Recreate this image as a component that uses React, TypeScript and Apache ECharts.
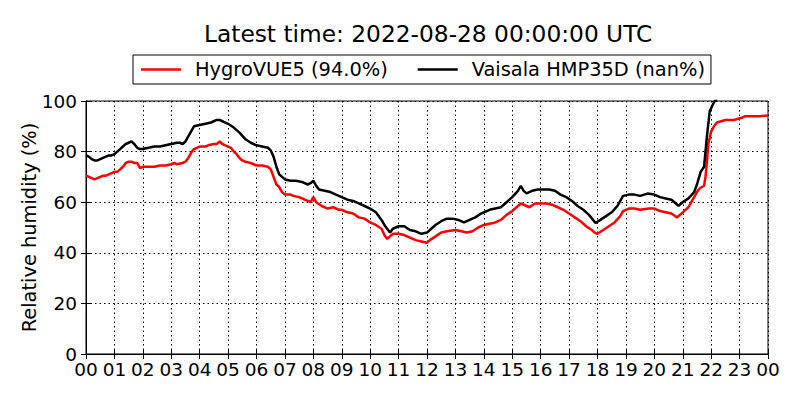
import React, { useEffect, useRef } from "react";
import * as echarts from "echarts";

const titleText = "Latest time: 2022-08-28 00:00:00 UTC";
const redName = "HygroVUE5 (94.0%)";
const blackName = "Vaisala HMP35D (nan%)";
const yTitle = "Relative humidity (%)";

const redTimes = [
  0.0, 0.1, 0.2, 0.3, 0.4, 0.5, 0.6, 0.7, 0.8, 0.9, 1.0, 1.1, 1.2, 1.3, 1.4, 1.5, 1.6, 1.7, 1.8, 1.9,
  2.0, 2.2, 2.4, 2.6, 2.8, 3.0, 3.1, 3.2, 3.4, 3.5, 3.6, 3.7, 3.8, 4.0, 4.2, 4.3, 4.5, 4.6, 4.7, 4.8,
  4.9, 5.0, 5.1, 5.2, 5.3, 5.4, 5.5, 5.6, 5.8, 6.0, 6.2, 6.4, 6.5, 6.6, 6.7, 6.8, 6.9, 7.0, 7.2, 7.3,
  7.5, 7.6, 7.8, 7.9, 8.0, 8.1, 8.3, 8.5, 8.7, 8.9, 9.0, 9.2, 9.4, 9.6, 9.8, 10.0, 10.2, 10.4, 10.5, 10.6,
  10.7, 10.8, 11.0, 11.2, 11.4, 11.6, 11.8, 12.0, 12.1, 12.3, 12.5, 12.7, 13.0, 13.2, 13.4, 13.6, 13.8, 14.0, 14.2, 14.4,
  14.6, 14.8, 15.0, 15.2, 15.3, 15.5, 15.6, 15.8, 16.0, 16.2, 16.4, 16.6, 16.8, 17.0, 17.2, 17.4, 17.6, 17.8, 17.9, 18.0,
  18.2, 18.4, 18.6, 18.8, 18.9, 19.1, 19.3, 19.5, 19.8, 20.0, 20.2, 20.4, 20.6, 20.8, 21.0, 21.2, 21.3, 21.5, 21.6, 21.75,
  21.8, 21.85, 21.9, 22.0, 22.1, 22.2, 22.5, 22.8, 23.1, 23.2, 23.5, 23.7, 24.0,
];
const redRH = [
  70.5, 70, 69.5, 69, 69.5, 70, 70.5, 70.5, 71, 71.5, 72, 72, 73, 74, 75.5, 76, 76, 75.5, 75.5, 73.5,
  74, 74, 74, 74.5, 74.5, 75, 75.5, 75, 75.5, 76, 77.5, 79.5, 81, 82, 82, 82.5, 83, 83, 84, 83,
  82.5, 82, 81.5, 80, 79, 77.5, 76.5, 76, 75.5, 74.5, 74.5, 74, 73, 70, 67, 66, 64, 63, 63, 62.5,
  62, 61.5, 60.5, 60, 62, 60, 58.5, 57.5, 58, 57, 57, 56, 55.5, 54, 53.5, 52, 51, 49.5, 47, 45.5,
  46.5, 47.5, 47.5, 47, 46, 45, 44.5, 44, 45, 46.5, 48, 48.5, 49, 48.5, 48, 48.5, 50, 51, 51.5, 52,
  53, 55, 56.5, 58.5, 59.5, 58.5, 58, 59.5, 59.5, 59.5, 59, 58, 57, 55.5, 54, 52.5, 50.5, 49, 48, 47.5,
  49, 50.5, 52, 54.5, 56.5, 57.5, 57.5, 57, 57.5, 57.5, 56.5, 56, 55.5, 54, 56, 58, 60, 64, 65.5, 66.5,
  70, 76, 83, 88, 90, 91.5, 92.5, 92.5, 93.5, 94, 94, 94, 94.3,
];

const blackTimes = [
  0.0, 0.1, 0.2, 0.3, 0.4, 0.5, 0.6, 0.7, 0.8, 0.9, 1.0, 1.1, 1.2, 1.3, 1.4, 1.5, 1.6, 1.7, 1.8, 1.9,
  2.0, 2.2, 2.4, 2.6, 2.8, 3.0, 3.2, 3.3, 3.4, 3.5, 3.6, 3.7, 3.8, 4.0, 4.2, 4.4, 4.6, 4.7, 4.8, 5.0,
  5.2, 5.4, 5.6, 5.8, 6.0, 6.2, 6.4, 6.5, 6.6, 6.7, 6.8, 6.9, 7.0, 7.2, 7.4, 7.6, 7.8, 7.9, 8.0, 8.1,
  8.2, 8.4, 8.6, 8.8, 9.0, 9.2, 9.4, 9.6, 9.8, 10.0, 10.2, 10.4, 10.5, 10.6, 10.7, 10.8, 11.0, 11.2, 11.4, 11.6,
  11.8, 12.0, 12.1, 12.3, 12.5, 12.7, 12.9, 13.1, 13.3, 13.5, 13.7, 13.9, 14.0, 14.2, 14.4, 14.6, 14.8, 15.0, 15.2, 15.3,
  15.4, 15.5, 15.7, 15.9, 16.1, 16.3, 16.5, 16.7, 16.9, 17.1, 17.3, 17.5, 17.7, 17.93, 18.1, 18.3, 18.5, 18.7, 18.9, 19.1,
  19.3, 19.5, 19.76, 20.0, 20.2, 20.4, 20.6, 20.85, 21.0, 21.2, 21.4, 21.5, 21.63, 21.75, 21.85, 21.95, 22.1, 22.2,
];
const blackRH = [
  78.5, 78, 77, 76.5, 76.5, 77, 77.5, 78, 78.5, 78.5, 79, 80, 81, 82, 83, 83.5, 84, 83, 81.5, 81,
  81, 81.5, 82, 82, 82.5, 83, 83.5, 83.5, 83, 84, 86, 88, 90, 90.5, 91, 91.5, 92.5, 92.5, 92, 91,
  89.5, 87.5, 85, 83.5, 82.5, 82, 81.5, 80.5, 78, 74, 71, 70, 69, 68.5, 68.5, 68, 67, 67.5, 68.5, 66.5,
  65, 64.5, 64, 63, 62, 61, 60.5, 59.5, 58.5, 57.5, 56, 53, 51, 49.5, 48, 49.5, 50.5, 50.5, 49, 48.5,
  47.5, 48, 49, 51, 52.5, 53.5, 53.5, 53, 52, 53, 54, 55.5, 56, 57, 57.5, 58, 60, 62, 64.5, 66.5,
  64.5, 63.5, 64.5, 65, 65, 65, 64.5, 63, 62, 60.5, 58.5, 57, 55, 51.8, 53, 54.5, 56, 58.5, 62.5, 63,
  63, 62.5, 63.4, 63, 62, 61.5, 61, 58.6, 60, 61.5, 64, 67, 72, 74, 86, 96, 99.5, 101,
];

const FONT = "DejaVu Sans";

export default function App() {
  const ref = useRef<HTMLDivElement>(null);
  useEffect(() => {
    if (!ref.current) return;
    const chart = echarts.init(ref.current, null, { renderer: "svg" });
    const hourFmt = (v: number) => String(Math.round(v) % 24).padStart(2, "0");
    const dotted = { color: "#000", width: 1, type: [1.5, 3] as any };
    chart.setOption({
      animation: false,
      backgroundColor: "#fff",
      title: {
        text: titleText,
        left: 199,
        top: 17,
        padding: 5,
        textStyle: { fontFamily: FONT, fontSize: 23.3, fontWeight: "normal", color: "#000" },
      },
      legend: {
        left: 133,
        top: 55,
        icon: "rect",
        itemWidth: 40,
        itemHeight: 2.5,
        itemGap: 30,
        padding: [5, 6, 5, 8],
        borderColor: "#000",
        borderWidth: 1,
        data: [redName, blackName],
        textStyle: { fontFamily: FONT, fontSize: 19.4, color: "#000", padding: [0, 0, 0, 9] },
      },
      grid: {
        left: 86,
        right: 32,
        top: 101,
        bottom: 46,
        show: true,
        borderColor: "#000",
        borderWidth: 1,
        backgroundColor: "transparent",
      },
      xAxis: [
        {
          type: "value",
          min: 0,
          max: 24,
          interval: 1,
          axisLine: { lineStyle: { color: "#000", width: 1 } },
          axisTick: { inside: true, length: 5, lineStyle: { color: "#000" } },
          axisLabel: {
            formatter: hourFmt,
            fontFamily: FONT,
            fontSize: 18.5,
            lineHeight: 13,
            color: "#000",
            margin: 9,
          },
          splitLine: { show: true, lineStyle: dotted },
        },
        {
          type: "value",
          position: "top",
          min: 0,
          max: 24,
          interval: 1,
          axisLine: { lineStyle: { color: "#000", width: 1 } },
          axisTick: { inside: true, length: 5, lineStyle: { color: "#000" } },
          axisLabel: { show: false },
          splitLine: { show: false },
        },
      ],
      yAxis: [
        {
          type: "value",
          min: 0,
          max: 100,
          interval: 20,
          name: yTitle,
          nameLocation: "middle",
          nameGap: 47,
          nameMoveOverlap: false,
          nameTextStyle: { fontFamily: FONT, fontSize: 19.4, color: "#000" },
          axisLine: { show: true, lineStyle: { color: "#000", width: 1 } },
          axisTick: { show: true, inside: true, length: 5, lineStyle: { color: "#000" } },
          axisLabel: { fontFamily: FONT, fontSize: 18.5, lineHeight: 13, color: "#000", margin: 9 },
          splitLine: { show: true, lineStyle: dotted },
        },
        {
          type: "value",
          position: "right",
          min: 0,
          max: 100,
          interval: 20,
          axisLine: { show: true, lineStyle: { color: "#000", width: 1 } },
          axisTick: { show: true, inside: true, length: 5, lineStyle: { color: "#000" } },
          axisLabel: { show: false },
          splitLine: { show: false },
        },
      ],
      series: [
        {
          name: redName,
          type: "line",
          xAxisIndex: 0,
          yAxisIndex: 0,
          showSymbol: false,
          symbol: "none",
          clip: true,
          lineStyle: { color: "#ff0000", width: 2.5 },
          itemStyle: { color: "#ff0000" },
          data: redTimes.map((t, i) => [t, redRH[i]]),
          z: 3,
        },
        {
          name: blackName,
          type: "line",
          xAxisIndex: 0,
          yAxisIndex: 0,
          showSymbol: false,
          symbol: "none",
          clip: true,
          lineStyle: { color: "#000000", width: 2.5 },
          itemStyle: { color: "#000000" },
          data: blackTimes.map((t, i) => [t, blackRH[i]]),
          z: 4,
        },
      ],
    });
    return () => chart.dispose();
  }, []);
  return <div ref={ref} style={{ width: 800, height: 400, margin: -8 }} />;
}
